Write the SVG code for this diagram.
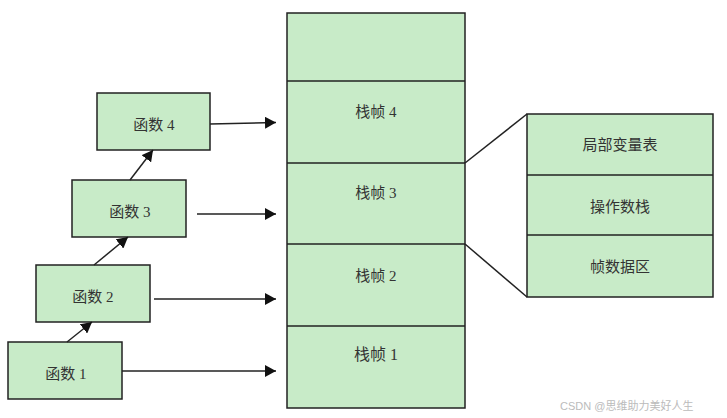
<svg xmlns="http://www.w3.org/2000/svg" width="727" height="418" viewBox="0 0 727 418">
<style>
.box{fill:#c8ebc8;stroke:#222;stroke-width:1.5}
.ln{stroke:#222;stroke-width:1.5;fill:none}
.t{font-family:"Liberation Serif","Noto Sans CJK SC",serif;font-size:15px;fill:#333;text-anchor:middle;dominant-baseline:central}
.wm{font-family:"Liberation Sans","Noto Sans CJK SC",sans-serif;font-size:11px;fill:#bbb}
</style>
<defs>
<marker id="ah" markerWidth="11" markerHeight="12" refX="11" refY="6" orient="auto" markerUnits="userSpaceOnUse">
<path d="M0,0 L11,6 L0,12 Z" fill="#111"/>
</marker>
</defs>
<rect width="727" height="418" fill="#fff"/>
<g id="stack">
<rect class="box" x="287" y="13" width="178" height="395"/>
<line class="ln" x1="287" y1="81" x2="465" y2="81"/>
<line class="ln" x1="287" y1="163" x2="465" y2="163"/>
<line class="ln" x1="287" y1="244" x2="465" y2="244"/>
<line class="ln" x1="287" y1="326" x2="465" y2="326"/>
<text class="t" x="376" y="112">栈帧 4</text>
<text class="t" x="376" y="193">栈帧 3</text>
<text class="t" x="376" y="276">栈帧 2</text>
<text class="t" x="376" y="354" style="font-size:16px">栈帧 1</text>
</g>
<g id="frame-detail">
<rect class="box" x="527" y="114" width="186" height="183"/>
<line class="ln" x1="527" y1="175" x2="713" y2="175"/>
<line class="ln" x1="527" y1="235" x2="713" y2="235"/>
<text class="t" x="620" y="145">局部变量表</text>
<text class="t" x="620" y="207">操作数栈</text>
<text class="t" x="620" y="267">帧数据区</text>
</g>
<g id="f4"><rect class="box" x="97" y="93" width="113" height="57"/><text class="t" x="154" y="125">函数 4</text></g>
<g id="f3"><rect class="box" x="72" y="180" width="114" height="57"/><text class="t" x="130" y="212">函数 3</text></g>
<g id="f2"><rect class="box" x="36" y="265" width="114" height="57"/><text class="t" x="93" y="297">函数 2</text></g>
<g id="f1"><rect class="box" x="8" y="342" width="114" height="57"/><text class="t" x="66" y="374">函数 1</text></g>
<g id="connectors">
<line class="ln" x1="210" y1="124" x2="276" y2="122.5" marker-end="url(#ah)"/>
<line class="ln" x1="197" y1="214" x2="276" y2="214" marker-end="url(#ah)"/>
<line class="ln" x1="154" y1="299" x2="276" y2="299" marker-end="url(#ah)"/>
<line class="ln" x1="122" y1="371" x2="276" y2="371" marker-end="url(#ah)"/>
<line class="ln" x1="130" y1="180" x2="153" y2="150" marker-end="url(#ah)"/>
<line class="ln" x1="94" y1="265" x2="128" y2="237" marker-end="url(#ah)"/>
<line class="ln" x1="67" y1="342" x2="92" y2="322" marker-end="url(#ah)"/>
<line class="ln" x1="465" y1="163" x2="527" y2="114"/>
<line class="ln" x1="465" y1="244" x2="527" y2="297"/>
</g>
<text class="wm" x="560" y="410">CSDN @思维助力美好人生</text>
</svg>
